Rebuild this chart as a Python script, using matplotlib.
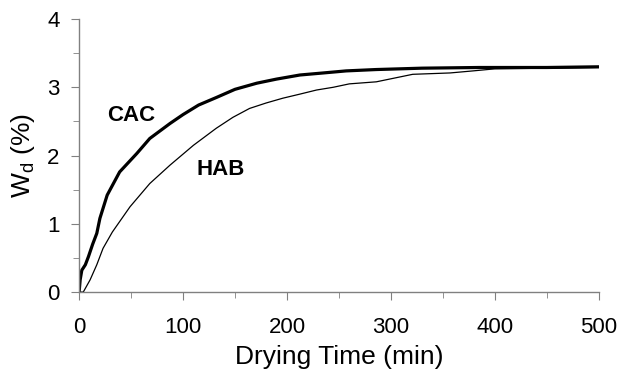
import matplotlib
matplotlib.use("Agg")
import matplotlib.pyplot as plt
from matplotlib.ticker import MultipleLocator

plt.rcParams["font.family"] = ["Liberation Sans", "DejaVu Sans"]
plt.rcParams["mathtext.fontset"] = "custom"
plt.rcParams["mathtext.rm"] = "Liberation Sans"

# drying curves (time in min, Wd in %)
cac_t = [0, 1, 2.6, 6, 9, 13, 17, 20, 27, 39, 55.5, 68, 87.5, 100, 115, 132,
         150, 171, 190, 212.5, 235, 257, 286, 330, 385, 450, 500]
cac_w = [0, 0.18, 0.32, 0.40, 0.52, 0.70, 0.86, 1.08, 1.42, 1.76, 2.03,
         2.25, 2.47, 2.60, 2.74, 2.85, 2.97, 3.06, 3.12, 3.18, 3.21, 3.24,
         3.26, 3.28, 3.29, 3.29, 3.30]

hab_t = [0, 4, 10.6, 17, 23, 32, 49, 68, 87.5, 110, 132, 148, 164, 180, 196,
         212.5, 228.5, 244.5, 260, 286, 321, 357, 379, 400, 450, 500]
hab_w = [0, 0, 0.18, 0.40, 0.64, 0.88, 1.25, 1.59, 1.86, 2.15, 2.40, 2.56,
         2.69, 2.77, 2.84, 2.90, 2.96, 3.00, 3.05, 3.08, 3.19, 3.21, 3.24,
         3.27, 3.28, 3.29]

fig = plt.figure(figsize=(6.23, 3.73), dpi=100)
ax = fig.add_axes([0.127, 0.217, 0.834, 0.732])

ax.plot(cac_t, cac_w, color="black", linewidth=2.3)
ax.plot(hab_t, hab_w, color="black", linewidth=0.9)

ax.text(50, 2.58, "CAC", fontsize=16, fontweight="bold", ha="center", va="center")
ax.text(136, 1.8, "HAB", fontsize=16, fontweight="bold", ha="center", va="center")

ax.set_xlim(0, 500)
ax.set_ylim(0, 4)
ax.xaxis.set_major_locator(MultipleLocator(100))
ax.xaxis.set_minor_locator(MultipleLocator(50))
ax.yaxis.set_major_locator(MultipleLocator(1))
ax.yaxis.set_minor_locator(MultipleLocator(0.5))

for side in ["top", "right"]:
    ax.spines[side].set_visible(False)
for side in ["left", "bottom"]:
    ax.spines[side].set_color("#808080")
    ax.spines[side].set_linewidth(1.0)

ax.tick_params(which="major", direction="out", length=6, color="#808080",
               labelsize=16)
ax.tick_params(which="minor", direction="out", length=4, color="#808080")
ax.tick_params(axis="x", which="major", pad=12)
ax.tick_params(axis="y", which="major", pad=8)

ax.set_xlabel("Drying Time (min)", fontsize=19, labelpad=5)
ax.set_ylabel(r"W$_\mathregular{d}$ (%)", fontsize=19, labelpad=7)

fig.savefig("out.png", dpi=100)
